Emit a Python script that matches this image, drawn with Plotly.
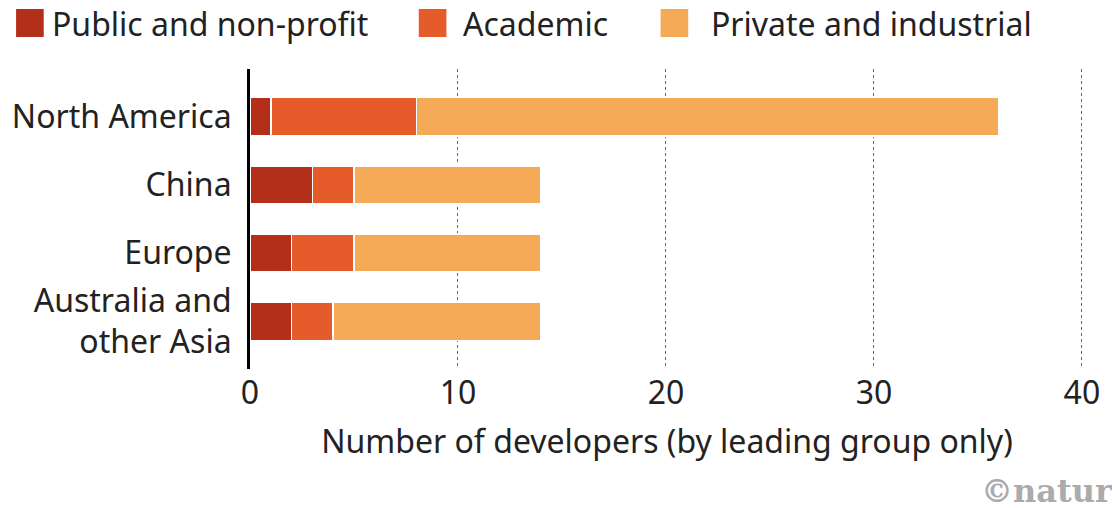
import plotly.graph_objects as go

regions = ["North America", "China", "Europe", "Australia and<br>other Asia"]
public = [1, 3, 2, 2]
academic = [7, 2, 3, 2]
private = [28, 9, 9, 10]

series = ["Public and non-profit", "Academic", "Private and industrial"]
colors = ["#b42f1a", "#e55b29", "#f5aa58"]

FONT = "Noto Sans"
W, H = 1112, 508
L, R, T, B = 245, 22, 69, 139

fig = go.Figure()
for name, vals, col in zip(series, [public, academic, private], colors):
    fig.add_trace(go.Bar(
        y=regions, x=vals, name=name, orientation="h",
        marker=dict(color=col, line=dict(color="white", width=1.5)),
        showlegend=False,
    ))

# legend drawn by hand so the swatches can be large
swatch_x = [8, 416, 661]
label_x = [42, 459, 710]
pw = W - L - R
ph = H - T - B
for sx, tx, name, col in zip(swatch_x, label_x, series, colors):
    fig.add_shape(type="rect", xref="paper", yref="paper",
                  x0=(sx - L) / pw, x1=(sx + 28 - L) / pw,
                  y0=1 + (T - 37) / ph, y1=1 + (T - 9) / ph,
                  fillcolor=col, line=dict(width=0))
    fig.add_annotation(text=name, xref="paper", yref="paper",
                       x=(tx - L) / pw, y=1 + (T - 23) / ph,
                       xanchor="left", yanchor="middle", showarrow=False,
                       font=dict(family=FONT, size=32, color="#222"))

fig.add_annotation(text="<b>©nature</b>", xref="paper", yref="paper",
                   x=(984 - L) / pw, y=-(491 - (H - B)) / ph,
                   xanchor="left", yanchor="middle", showarrow=False,
                   font=dict(family="DejaVu Serif", size=32, color="#ababab"))

fig.update_layout(
    barmode="stack",
    bargap=0.44,
    width=W, height=H,
    margin=dict(l=L, r=R, t=T, b=B),
    paper_bgcolor="white",
    plot_bgcolor="white",
    font=dict(family=FONT, size=32, color="#222"),
    xaxis=dict(
        range=[0, 40.1],
        tickvals=[0, 10, 20, 30, 40],
        showgrid=True, gridcolor="#666", gridwidth=1, griddash="dot",
        zeroline=False, showline=False, ticks="",
        ticklabelstandoff=2,
        title=dict(text="Number of developers (by leading group only)",
                   font=dict(size=32), standoff=18),
    ),
    yaxis=dict(
        categoryorder="array", categoryarray=regions,
        range=[3.7, -0.7],
        showgrid=False, zeroline=False,
        showline=True, linecolor="black", linewidth=3,
        ticks="", ticklabelstandoff=9,
    ),
)

fig.write_html("out.html", config={"displayModeBar": False},
               post_script="document.body.style.margin='0';")
